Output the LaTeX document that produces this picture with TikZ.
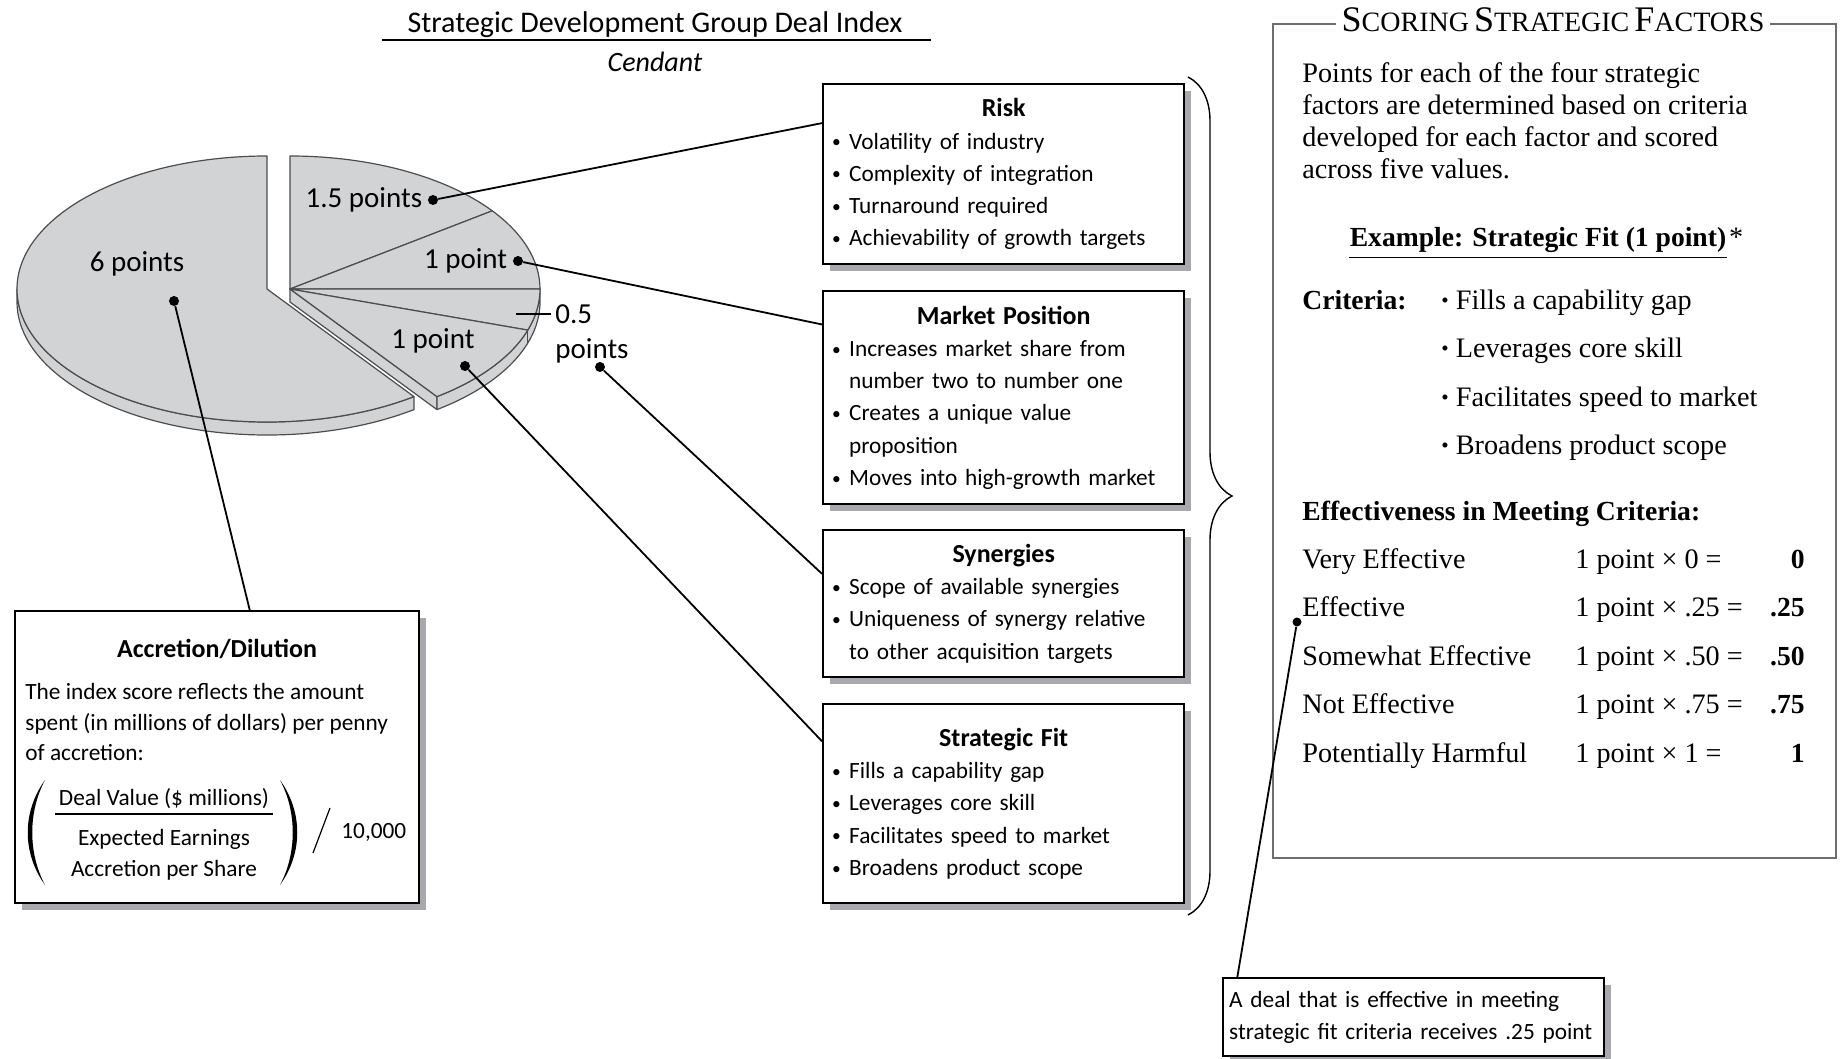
\documentclass[tikz,border=0pt]{standalone}
\usepackage{fontspec}
\setmainfont{Carlito}
\newfontfamily\panelfont{Liberation Serif}
\usetikzlibrary{calc}
\usetikzlibrary{positioning}
\usetikzlibrary{shadows}
\usetikzlibrary{decorations.pathreplacing}
\setlength{\parindent}{0pt}

\definecolor{piegray}{HTML}{D1D3D4}
\definecolor{shadowgray}{HTML}{A7A9AC}
\definecolor{edgegray}{HTML}{4D4D4F}
\definecolor{panelgray}{HTML}{6D6E71}

\newcommand{\smallbul}{\raisebox{0.12ex}{\scalebox{0.75}{\textbullet}}}
\newcommand{\bul}{\makebox[8.5pt][l]{\smallbul}}
\newcommand{\ind}{\hspace*{8.5pt}}
\newcommand{\boxhead}[1]{{\centering\bfseries\fontsize{13}{16.15}\selectfont #1\par}}
\newcommand{\fakesc}[2]{{\fontsize{18}{20}\selectfont #1}{\fontsize{14}{16}\selectfont #2}}

\tikzset{
 factor/.style={draw, line width=1.2pt, fill=white, anchor=north west, inner xsep=4.5pt,
  inner ysep=0pt, text width=171.5pt, align=left, font=\fontsize{11.65}{16.15}\selectfont,
  drop shadow={shadow xshift=3.5pt, shadow yshift=-3.5pt, fill=shadowgray, opacity=1}},
 pie/.style={fill=piegray, draw=edgegray, line width=0.6pt, line join=round},
 dot/.style={circle, fill=black, inner sep=0pt, minimum size=5pt},
 conn/.style={line width=0.9pt},
 pielabel/.style={font=\fontsize{14.5}{17.5}\selectfont, inner sep=0pt},
 boxtext/.style={font=\fontsize{11.65}{16.15}\selectfont, inner sep=0pt, anchor=base west},
 paneltext/.style={font=\panelfont\fontsize{14.1}{16}\selectfont, inner sep=0pt, anchor=base west},
 panelbold/.style={paneltext, font=\panelfont\bfseries\fontsize{13.8}{16}\selectfont},
 paren/.style={fill=black, draw=none},
}

\begin{document}
\begin{tikzpicture}[x=0.5pt, y=-0.5pt]
\useasboundingbox (0,0) rectangle (1841,1059);

% title
\node[font=\fontsize{15}{18}\selectfont, anchor=base, inner sep=0] (ttl) at (655,33) {Strategic Development Group Deal Index};
\draw[line width=0.9pt] (382,40) -- (931,40);
\node[font=\itshape\fontsize{14}{17}\selectfont, anchor=base, inner sep=0] (cendant) at (655,72) {Cendant};

% pie chart
\coordinate (B) at (267,289);
\coordinate (R) at (290,289);
\def\pieRx{250} \def\pieRy{133} \def\pieD{13}
% side faces
\draw[pie] (B) ++(-\pieRx,0) arc[start angle=180, end angle=54, x radius=\pieRx, y radius=\pieRy]
  -- ++(0,\pieD) arc[start angle=54, end angle=180, x radius=\pieRx, y radius=\pieRy] -- cycle;
\draw[pie] (R) -- ++({\pieRx*cos(54)},{\pieRy*sin(54)}) -- ++(0,\pieD) -- ($(R)+(0,\pieD)$) -- cycle;
\draw[pie] (R) ++({\pieRx*cos(54)},{\pieRy*sin(54)}) arc[start angle=54, end angle=0, x radius=\pieRx, y radius=\pieRy]
  -- ++(0,\pieD) arc[start angle=0, end angle=54, x radius=\pieRx, y radius=\pieRy] -- cycle;
\draw[pie] (R) ++({\pieRx*cos(18)},{\pieRy*sin(18)}) -- ++(0,\pieD);
% top faces
\draw[pie] (B) -- ++(0,-\pieRy) arc[start angle=-90, end angle=-306, x radius=\pieRx, y radius=\pieRy] -- cycle;
\foreach \a/\b in {-90/-36, -36/0, 0/18, 18/54}
 \draw[pie] (R) -- ++({\pieRx*cos(\a)},{\pieRy*sin(\a)}) arc[start angle=\a, end angle=\b, x radius=\pieRx, y radius=\pieRy] -- cycle;

% pie labels
\node[dot] (d15) at (433,200) {};
\node[pielabel, left=2.5pt of d15] (l15) {1.5 points};
\node[dot] (d1a) at (518,261) {};
\node[pielabel, left=2.5pt of d1a] (l1a) {1 point};
\node[dot] (d1b) at (465,366) {};
\node[pielabel] (l1b) at (433,341) {1 point};
\node[dot] (d05) at (600,367) {};
\node[pielabel, align=left, anchor=north west] (l05) at (555,304) {0.5\\points};
\node[dot] (d6) at (174,301) {};
\node[pielabel] (l6) at (137,264) {6 points};
\coordinate (tk) at (516,314);
\draw[conn] (tk) -- ([xshift=-2pt]tk -| l05.west);

% strategic factor boxes
\node[factor, minimum height=90pt] (risk) at (822,83) {\boxhead{Risk}
 \bul Volatility of industry\\
 \bul Complexity of integration\\
 \bul Turnaround required\\
 \bul Achievability of growth targets};
\node[factor, minimum height=106.5pt] (mkt) at (822,290) {\boxhead{Market Position}
 \bul Increases market share from\\
 \ind number two to number one\\
 \bul Creates a unique value\\
 \ind proposition\\
 \bul Moves into high-growth market};
\node[factor, minimum height=73.5pt] (syn) at (822,529) {\boxhead{Synergies}
 \bul Scope of available synergies\\
 \bul Uniqueness of synergy relative\\
 \ind to other acquisition targets};
\node[factor, minimum height=99.5pt] (fit) at (822,703) {\boxhead{Strategic Fit}
 \bul Fills a capability gap\\
 \bul Leverages core skill\\
 \bul Facilitates speed to market\\
 \bul Broadens product scope};
\draw[line width=0.7pt, decorate, decoration={brace, amplitude=22pt}] (1188,77) -- (1188,915);

% accretion/dilution
\node[factor, minimum height=146pt, text width=193pt] (accr) at (14,610) {};
\node[font=\bfseries\fontsize{13}{16}\selectfont, anchor=base, inner sep=0] (accrT) at (217,657) {Accretion/Dilution};
\foreach \ln [count=\i] in {The index score reflects the amount, spent (in millions of dollars) per penny, of accretion:}
 \node[boxtext] (accl\i) at (25,{669+30.5*\i}) {\ln};
\draw[paren] (45,780) .. controls (22,812) and (22,853) .. (45,885) .. controls (28,853) and (28,812) .. (45,780) -- cycle;
\draw[paren] (280,780) .. controls (303,812) and (303,853) .. (280,885) .. controls (297,853) and (297,812) .. (280,780) -- cycle;
\node[boxtext, anchor=base] (num) at (164,805) {Deal Value (\$ millions)};
\draw[line width=0.8pt] (55,814) -- (273,814);
\node[boxtext, anchor=base] (den1) at (164,845) {Expected Earnings};
\node[boxtext, anchor=base] (den2) at (164,876) {Accretion per Share};
\draw[line width=0.6pt] (313,853) -- (330,808);
\node[boxtext] (tenk) at (341,838) {10,000};

% connectors
\draw[conn] (d15) -- ($(risk.north west)!0.22!(risk.south west)$);
\draw[conn] (d1a) -- ($(mkt.north west)!0.16!(mkt.south west)$);
\draw[conn] (d05) -- ($(syn.north west)!0.30!(syn.south west)$);
\draw[conn] (d1b) -- ($(fit.north west)!0.19!(fit.south west)$);
\draw[conn] (d6) -- ($(accr.north west)!0.58!(accr.north east)$);

% scoring panel
\node[draw=panelgray, line width=0.8pt, minimum width=281.5pt, minimum height=417pt, anchor=north west, inner sep=0] (panel) at (1272,23) {};
\node[fill=white, inner xsep=3pt, inner ysep=1pt, anchor=base, font=\panelfont] (pttl) at (1553,32) {\fakesc{S}{CORING} \fakesc{S}{TRATEGIC} \fakesc{F}{ACTORS}};
\foreach \ln [count=\i] in {Points for each of the four strategic, factors are determined based on criteria, developed for each factor and scored, across five values.}
 \node[paneltext] (par\i) at (1302,{51+32*\i}) {\ln};
\node[panelbold, anchor=base] (exmp) at (1538,247) {Example: Strategic Fit (1 point)};
\node[paneltext] (ast) at ([xshift=1pt]exmp.base east) {*};
\draw[line width=0.9pt] ([yshift=-2pt]exmp.south west) -- ([yshift=-2pt]exmp.south east);
\node[panelbold] (critl) at (1302,309) {Criteria:};
\foreach \ln [count=\i] in {Fills a capability gap, Leverages core skill, Facilitates speed to market, Broadens product scope}
 \node[paneltext] (crit\i) at (1441,{260.5+48.5*\i}) {\smallbul\ \ln};
\node[panelbold] (effh) at (1302,520) {Effectiveness in Meeting Criteria:};
\foreach \lbl/\mul [count=\i] in {Very Effective/0, Effective/.25, Somewhat Effective/.50, Not Effective/.75, Potentially Harmful/1} {
 \node[paneltext] (eff\i) at (1302,{519.5+48.5*\i}) {\lbl};
 \node[paneltext] (calc\i) at (1575,{519.5+48.5*\i}) {1 point × \mul\ =};
 \node[panelbold, anchor=base east] (val\i) at (1805,{519.5+48.5*\i}) {\mul};
}

% callout
\node[factor, minimum height=39pt, text width=184.5pt, inner xsep=3pt] (note) at (1222,977) {A deal that is effective in meeting\\strategic fit criteria receives .25 point};
\node[dot, minimum size=4.5pt] (dEff) at (1297,622) {};
\draw[conn] (dEff) -- ($(note.north west)!0.04!(note.north east)$);
\end{tikzpicture}
\end{document}
